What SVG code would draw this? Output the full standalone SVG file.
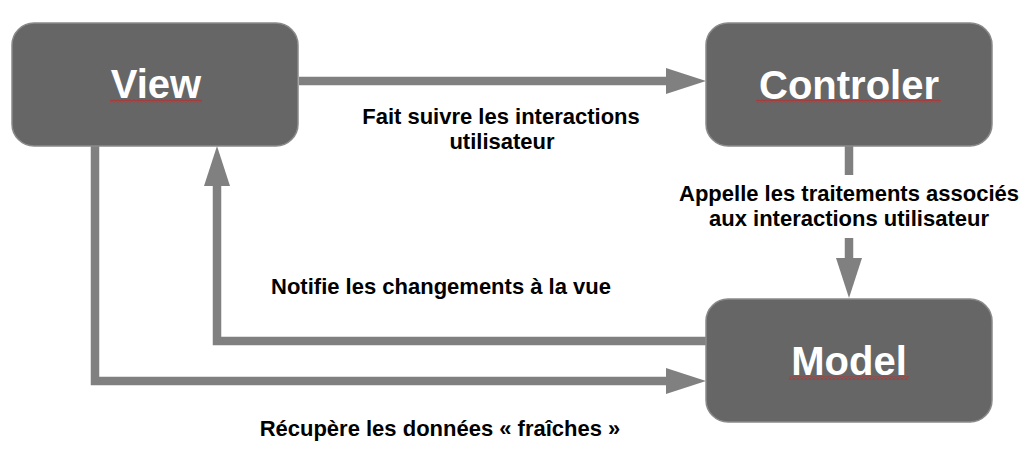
<svg xmlns="http://www.w3.org/2000/svg" width="1034" height="464" viewBox="0 0 1034 464">
<defs>
<style>
.box{fill:#666666;stroke:#8a8a8a;stroke-width:1.5}
.title{font-family:"Liberation Sans",Arial,sans-serif;font-weight:bold;font-size:40px;fill:#ffffff;text-anchor:middle}
.lbl{font-family:"Liberation Sans",Arial,sans-serif;font-weight:bold;font-size:22px;fill:#000000;text-anchor:middle}
.wire{fill:none;stroke:#808080;stroke-width:8.5}
.head{fill:#808080}
</style>
<pattern id="sq" patternUnits="userSpaceOnUse" width="4" height="3">
<path d="M0 2.5 L2 0.5 L4 2.5" fill="none" stroke="#ff0000" stroke-width="0.8"/>
</pattern>
</defs>
<rect width="1034" height="464" fill="#ffffff"/>
<g id="connectors">
<path class="wire" d="M299 81 H668"/>
<polygon class="head" points="666,68 706,81 666,94"/>
<path class="wire" d="M849 146 V175"/>
<path class="wire" d="M849 238 V260"/>
<polygon class="head" points="836,258 862,258 849,298"/>
<path class="wire" d="M706 341 H217 V184"/>
<polygon class="head" points="204,186 230,186 217,146"/>
<path class="wire" d="M95 146 V381 H668"/>
<polygon class="head" points="666,368 706,381 666,394"/>
</g>
<g id="labels">
<text class="lbl" x="501" y="124">Fait suivre les interactions</text>
<text class="lbl" x="502" y="149">utilisateur</text>
<text class="lbl" x="849" y="201">Appelle les traitements associés</text>
<text class="lbl" x="849" y="226">aux interactions utilisateur</text>
<text class="lbl" x="441" y="294">Notifie les changements à la vue</text>
<text class="lbl" x="440" y="436">Récupère les données « fraîches »</text>
</g>
<g id="view">
<rect class="box" x="12" y="23" width="286" height="123" rx="22"/>
<text class="title" x="156" y="98">View</text>
<rect x="110" y="99.5" width="92" height="3" fill="url(#sq)"/>
</g>
<g id="controler">
<rect class="box" x="706" y="23" width="286" height="123" rx="22"/>
<text class="title" x="849" y="99">Controler</text>
<rect x="756" y="99.5" width="185" height="3" fill="url(#sq)"/>
</g>
<g id="model">
<rect class="box" x="706" y="299" width="286" height="123" rx="22"/>
<text class="title" x="849" y="375">Model</text>
<rect x="789" y="376.5" width="120" height="3" fill="url(#sq)"/>
</g>
</svg>
